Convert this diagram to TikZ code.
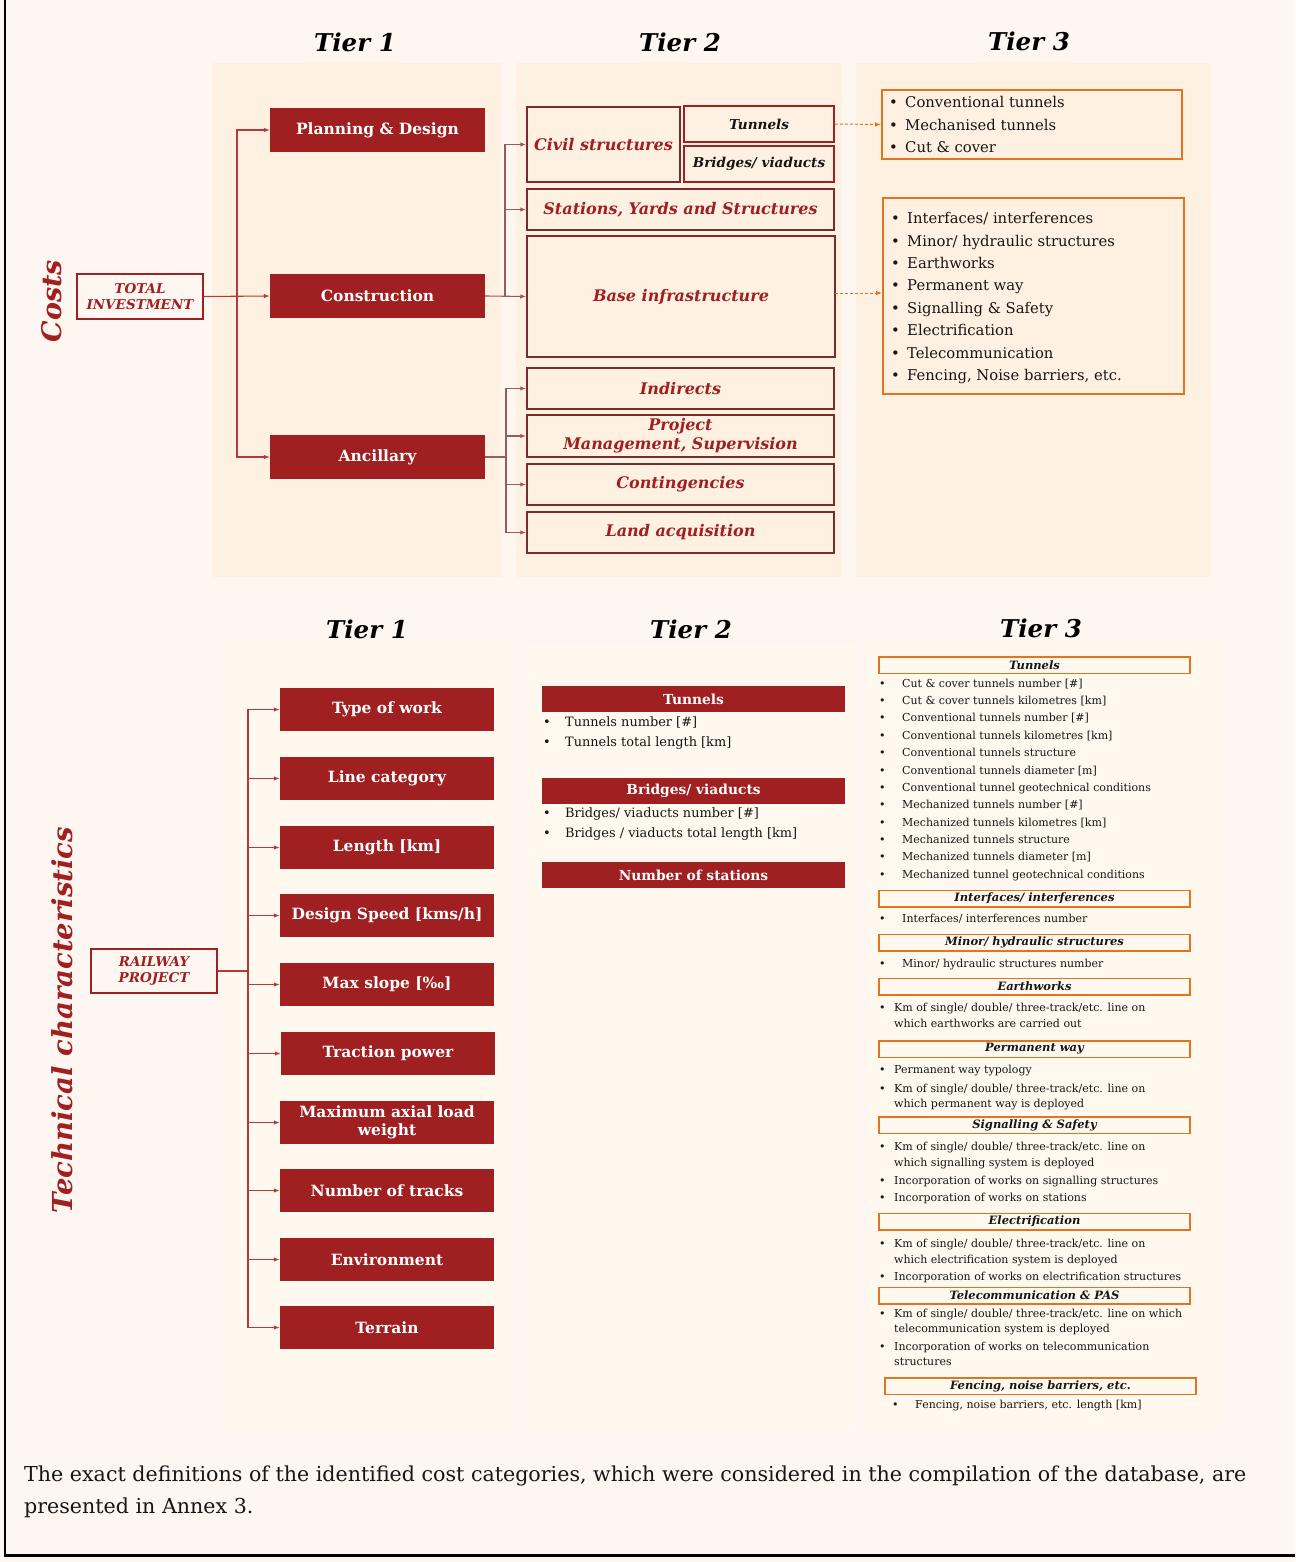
\documentclass[tikz,border=0pt]{standalone}
\usepackage{fontspec}
\setmainfont{DejaVu Serif}
\usetikzlibrary{arrows.meta}

\definecolor{bgpage}{HTML}{FEF6F0}
\definecolor{panelA}{HTML}{FEF1E1}
\definecolor{panelB}{HTML}{FEF8EE}
\definecolor{crimson}{HTML}{A01F21}
\definecolor{brownline}{HTML}{7A2B2B}
\definecolor{linkred}{HTML}{B8383A}
\definecolor{linkbrown}{HTML}{9A5A5A}
\definecolor{amber}{HTML}{E3731C}
\definecolor{ink}{HTML}{161616}

\newcommand\fsz[2]{\fontsize{#1}{#2}\selectfont}
% bullet line: [style] name, bullet x, text x, y, text
\newcommand\bline[6][item]{\node[#1] (#2) at (#3,#5) {\makebox[\dimexpr #4pt-#3pt\relax][l]{•}#6};}

\tikzset{
  solidbox/.style={fill=crimson, text=white, font=\bfseries\fsz{15.5}{18}, inner sep=0pt, align=center},
  rootbox/.style={draw=crimson, line width=1.5pt, fill=bgpage, text=crimson,
    font=\bfseries\itshape\fsz{13.5}{16}, inner sep=0pt, align=center},
  t2box/.style={draw=brownline, line width=1.5pt, text=crimson,
    font=\bfseries\itshape\fsz{16}{19}, inner sep=0pt, align=center},
  t2sub/.style={draw=crimson, line width=1.5pt, text=ink,
    font=\bfseries\itshape\fsz{13.6}{15}, inner sep=0pt, align=center},
  t3box/.style={draw=amber, line width=2pt, inner sep=0pt},
  bar/.style={fill=crimson, text=white, font=\bfseries\fsz{13.8}{15},
    minimum width=303pt, minimum height=26pt, inner sep=0pt},
  hdr/.style={draw=amber, line width=1.5pt, minimum width=311pt, minimum height=16.5pt,
    inner sep=0pt, font=\bfseries\itshape\fsz{11.5}{13}, text=ink},
  item/.style={anchor=west, inner sep=0pt, font=\fsz{11}{13}, text=ink,
    text height=8pt, text depth=2.5pt, yshift=-1.5pt},
  item2/.style={anchor=west, inner sep=0pt, font=\fsz{12.9}{15}, text=ink,
    text height=9.5pt, text depth=3pt, yshift=-1.5pt},
  item3/.style={anchor=west, inner sep=0pt, font=\fsz{14.8}{17}, text=ink,
    text height=11pt, text depth=3.5pt, yshift=-2pt},
  tiertitle/.style={font=\bfseries\itshape\fsz{24.5}{28}, text=black, inner sep=0pt},
  sidetitle/.style={rotate=90, font=\bfseries\itshape\fsz{27}{30}, text=crimson, inner sep=0pt},
  arr/.style={draw=linkred, line width=1.1pt, -{Latex[length=6pt,width=4.5pt]}},
  arrb/.style={draw=linkbrown, line width=1.1pt, -{Latex[length=6pt,width=4.5pt]}},
  link/.style={draw=linkred, line width=1.1pt},
  linkb/.style={draw=linkbrown, line width=1.1pt},
  dasharr/.style={draw=amber, line width=1pt, dash pattern=on 3pt off 2pt,
    -{Latex[length=6pt,width=4.5pt]}},
}

\begin{document}
\begin{tikzpicture}[x=1pt, y=-1pt]
% page
\fill[bgpage] (0,0) rectangle (1295,1562);
\useasboundingbox (0,0) rectangle (1295,1562);
\draw[black, line width=2.5pt] (5,0) -- (5,1555.5) -- (1295,1555.5);

% ---------------- Costs ----------------
\fill[panelA] (212,63) rectangle (501,577);
\fill[panelA] (516,63) rectangle (842,577);
\fill[panelA] (856,63) rectangle (1211,577);

\node[tiertitle] (ca1) at (355,42) {Tier 1};
\node[tiertitle] (ca2) at (680,42) {Tier 2};
\node[tiertitle] (ca3) at (1029,41) {Tier 3};
\node[sidetitle] (costs) at (52,301) {Costs};

\node[rootbox, minimum width=126pt, minimum height=45pt] (tot) at (140,296.5) {TOTAL\\INVESTMENT};

\node[solidbox, minimum width=215pt, minimum height=44pt] (pd)  at (377.5,130) {Planning \& Design};
\node[solidbox, minimum width=215pt, minimum height=44pt] (con) at (377.5,296) {Construction};
\node[solidbox, minimum width=215pt, minimum height=44pt] (anc) at (377.5,457) {Ancillary};

\coordinate (j1) at (237,296);
\draw[arr] (tot.east) -- (con.west);
\draw[arr] (j1) |- (pd.west);
\draw[arr] (j1) |- (anc.west);

\node[t2box, minimum width=153pt, minimum height=75pt] (civ) at (603.5,144.5) {Civil structures};
\node[t2sub, minimum width=150pt, minimum height=36pt] (tun) at (759,124) {Tunnels};
\node[t2sub, minimum width=150pt, minimum height=36pt] (bri) at (759,164) {Bridges/ viaducts};
\node[t2box, minimum width=307pt, minimum height=41pt] (sta) at (680.5,209.5) {Stations, Yards and Structures};
\node[t2box, minimum width=308pt, minimum height=121pt] (base) at (681,296.5) {Base infrastructure};
\node[t2box, minimum width=307pt, minimum height=41pt] (ind) at (680.5,388.5) {Indirects};
\node[t2box, minimum width=307pt, minimum height=42pt, font=\bfseries\itshape\fsz{16}{19}] (pm) at (680.5,436) {Project\\Management, Supervision};
\node[t2box, minimum width=307pt, minimum height=41pt] (cont) at (680.5,484.5) {Contingencies};
\node[t2box, minimum width=307pt, minimum height=41pt] (land) at (680.5,532.5) {Land acquisition};

\coordinate (j2) at (505,296);
\draw[arrb] (con.east) -- (base.west);
\draw[arrb] (j2) |- (civ.west);
\draw[arrb] (j2) |- (sta.west);

\coordinate (j3) at (506,457);
\draw[linkb] (anc.east) -- (j3);
\draw[arrb] (j3) |- (ind.west);
\draw[arrb] (j3) |- (pm.west);
\draw[arrb] (j3) |- (cont.west);
\draw[arrb] (j3) |- (land.west);

\node[t3box, minimum width=300pt, minimum height=69pt] (tta) at (1032,124.5) {};
\node[t3box, minimum width=301pt, minimum height=196pt] (ttb) at (1033.5,296) {};
\foreach \t [count=\i] in {Conventional tunnels, Mechanised tunnels, Cut \& cover}
  \bline[item3]{cta\i}{889}{905}{{102+22.5*(\i-1)}}{\t};
\foreach \t [count=\i] in {Interfaces/ interferences, Minor/ hydraulic structures, Earthworks,
    Permanent way, Signalling \& Safety, Electrification, Telecommunication,
    {Fencing, Noise barriers, etc.}}
  \bline[item3]{ctb\i}{891}{907}{{218+22.4*(\i-1)}}{\t};

\coordinate (bx) at (835,293);
\draw[dasharr] (tun.east) -- (tta.west);
\draw[dasharr] (bx) -- (ttb.west |- bx);

% ---------------- Technical characteristics ----------------
\fill[panelB] (222,643) rectangle (512,1430);
\fill[panelB] (527,645) rectangle (858,1430);
\fill[panelB] (867,643) rectangle (1221,1430);

\node[tiertitle] (tb1) at (367,629) {Tier 1};
\node[tiertitle] (tb2) at (691,629) {Tier 2};
\node[tiertitle] (tb3) at (1041,628) {Tier 3};
\node[sidetitle, font=\bfseries\itshape\fsz{27.5}{30}] (techc) at (62,1020) {Technical characteristics};

\node[rootbox, minimum width=126pt, minimum height=44pt] (rp) at (154,971) {RAILWAY\\PROJECT};

\tikzset{tbox/.style={solidbox, minimum width=214pt, minimum height=43pt}}
\node[tbox] (tw)  at (387,709.5)  {Type of work};
\node[tbox] (lc)  at (387,778.5)  {Line category};
\node[tbox] (len) at (387,847.5)  {Length [km]};
\node[tbox] (ds)  at (387,915.5)  {Design Speed [kms/h]};
\node[tbox] (ms)  at (387,984.5)  {Max slope [‰]};
\node[tbox] (tp)  at (388,1053.5) {Traction power};
\node[tbox, font=\bfseries\fsz{15.5}{18}] (mal) at (387,1122.5) {Maximum axial load\\weight};
\node[tbox] (nt)  at (387,1190.5) {Number of tracks};
\node[tbox] (env) at (387,1259.5) {Environment};
\node[tbox] (ter) at (387,1327.5) {Terrain};

\coordinate (j4) at (248,971);
\draw[link] (rp.east) -- (j4);
\foreach \b in {tw,lc,len,ds,ms,tp,mal,nt,env,ter}
  \draw[arr] (j4) |- (\b.west);

\node[bar] (btun) at (693.5,699) {Tunnels};
\bline[item2]{bt1}{543}{565}{722}{Tunnels number [\#]}
\bline[item2]{bt2}{543}{565}{742}{Tunnels total length [km]}
\node[bar] (bbri) at (693.5,791) {Bridges/ viaducts};
\bline[item2]{bb1}{543}{565}{813}{Bridges/ viaducts number [\#]}
\bline[item2]{bb2}{543}{565}{833}{Bridges / viaducts total length [km]}
\node[bar] (bsta) at (693.5,875) {Number of stations};

% Tier 3 headers
\node[hdr] (htun) at (1034.5,665)    {Tunnels};
\node[hdr] (hint) at (1034.5,898.5)  {Interfaces/ interferences};
\node[hdr] (hmin) at (1034.5,942.5)  {Minor/ hydraulic structures};
\node[hdr] (hear) at (1034.5,986.5)  {Earthworks};
\node[hdr] (hper) at (1034.5,1049)   {Permanent way};
\node[hdr] (hsig) at (1034.5,1125)   {Signalling \& Safety};
\node[hdr] (hele) at (1034.5,1221.5) {Electrification};
\node[hdr] (htel) at (1034.5,1295.5) {Telecommunication \& PAS};
\node[hdr] (hfen) at (1040.5,1386)   {Fencing, noise barriers, etc.};

% Tier 3 items
\foreach \t/\yy [count=\i] in {
    Cut \& cover tunnels number [\#]/683,
    Cut \& cover tunnels kilometres [km]/700,
    Conventional tunnels number [\#]/717,
    Conventional tunnels kilometres [km]/735,
    Conventional tunnels structure/752,
    Conventional tunnels diameter [m]/770,
    Conventional tunnel geotechnical conditions/787,
    Mechanized tunnels number [\#]/804,
    Mechanized tunnels kilometres [km]/822,
    Mechanized tunnels structure/839,
    Mechanized tunnels diameter [m]/856,
    Mechanized tunnel geotechnical conditions/874}
  \bline{it\i}{879}{902}{\yy}{\t};

\bline{ii1}{879}{902}{918}{Interfaces/ interferences number}
\bline{im1}{879}{902}{963}{Minor/ hydraulic structures number}

\bline{ie1}{879}{894}{1007}{Km of single/ double/ three-track/etc. line on}
\node[item] (ie2) at (894,1023) {which earthworks are carried out};

\bline{ip1}{879}{894}{1069}{Permanent way typology}
\bline{ip2}{879}{894}{1088}{Km of single/ double/ three-track/etc. line on}
\node[item] (ip3) at (894,1103) {which permanent way is deployed};

\bline{is1}{879}{894}{1146}{Km of single/ double/ three-track/etc. line on}
\node[item] (is2) at (894,1162) {which signalling system is deployed};
\bline{is3}{879}{894}{1180}{Incorporation of works on signalling structures}
\bline{is4}{879}{894}{1197}{Incorporation of works on stations}

\bline{iel1}{879}{894}{1243}{Km of single/ double/ three-track/etc. line on}
\node[item] (iel2) at (894,1259) {which electrification system is deployed};
\bline{iel3}{879}{894}{1276}{Incorporation of works on electrification structures}

\bline{itl1}{879}{894}{1313}{Km of single/ double/ three-track/etc. line on which}
\node[item] (itl2) at (894,1328) {telecommunication system is deployed};
\bline{itl3}{879}{894}{1346}{Incorporation of works on telecommunication}
\node[item] (itl4) at (894,1361) {structures};

\bline{if1}{892}{915}{1404}{Fencing, noise barriers, etc. length [km]}

% closing note
\node[anchor=north west, align=left, inner sep=0pt, font=\fsz{20.6}{32}, text=ink] (note) at (24,1466)
  {The exact definitions of the identified cost categories, which were considered in the compilation of the database, are\\
   presented in Annex 3.};
\end{tikzpicture}
\end{document}
